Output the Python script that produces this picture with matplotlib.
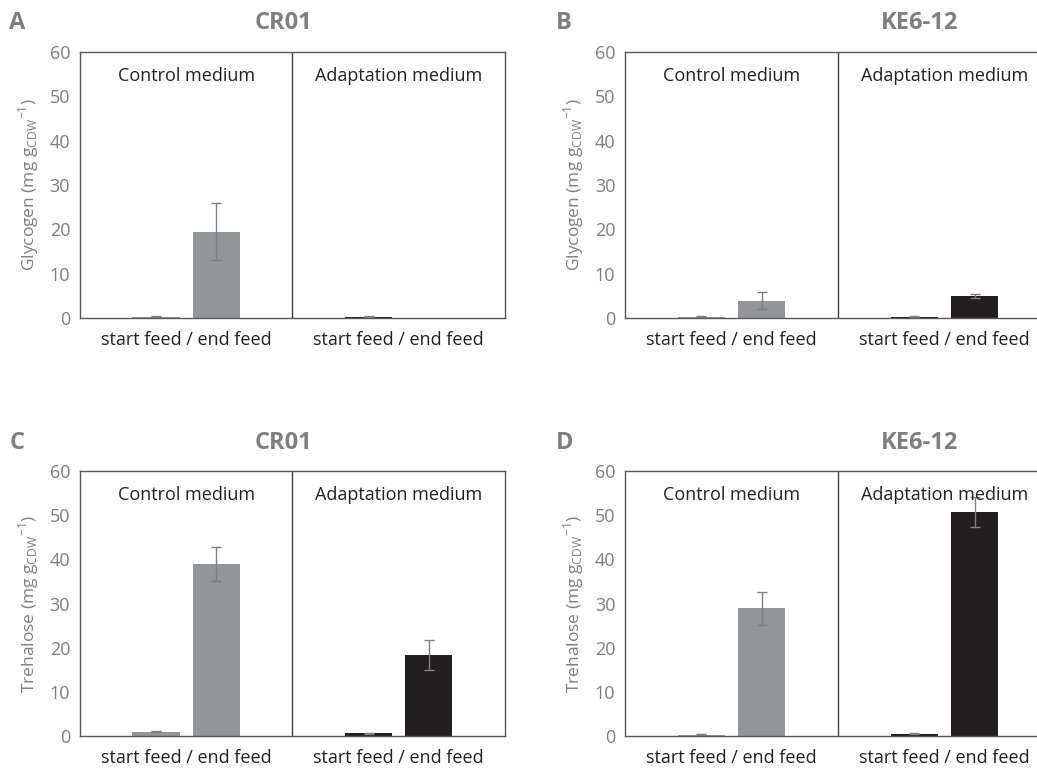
import matplotlib
matplotlib.use("Agg")
import matplotlib.pyplot as plt

plt.rcParams['font.family'] = ['Open Sans', 'DejaVu Sans']

# values (mg per g CDW)
media = ["Control medium", "Adaptation medium"]
panel_letters = ["A", "B", "C", "D"]
strains = ["CR01", "KE6-12", "CR01", "KE6-12"]
ylabels = ["Glycogen", "Glycogen", "Trehalose", "Trehalose"]

# [start, end] for control medium and adaptation medium
glyc_cr01_ctrl = [0.3, 19.5]
glyc_cr01_ctrl_err = [0.1, 6.4]
glyc_cr01_adapt = [0.3, 0.0]
glyc_cr01_adapt_err = [0.1, 0.0]

glyc_ke_ctrl = [0.3, 3.9]
glyc_ke_ctrl_err = [0.05, 1.9]
glyc_ke_adapt = [0.3, 5.0]
glyc_ke_adapt_err = [0.05, 0.4]

treh_cr01_ctrl = [1.0, 38.9]
treh_cr01_ctrl_err = [0.1, 3.8]
treh_cr01_adapt = [0.6, 18.3]
treh_cr01_adapt_err = [0.1, 3.4]

treh_ke_ctrl = [0.3, 28.9]
treh_ke_ctrl_err = [0.1, 3.8]
treh_ke_adapt = [0.5, 50.7]
treh_ke_adapt_err = [0.1, 3.4]

panels = [
    (glyc_cr01_ctrl, glyc_cr01_ctrl_err, glyc_cr01_adapt, glyc_cr01_adapt_err),
    (glyc_ke_ctrl, glyc_ke_ctrl_err, glyc_ke_adapt, glyc_ke_adapt_err),
    (treh_cr01_ctrl, treh_cr01_ctrl_err, treh_cr01_adapt, treh_cr01_adapt_err),
    (treh_ke_ctrl, treh_ke_ctrl_err, treh_ke_adapt, treh_ke_adapt_err),
]

gray_bar = "#939598"
dark_bar = "#231f20"
text_gray = "#7f7f7f"
frame = "#595959"

fig = plt.figure(figsize=(10.37, 7.69), dpi=100)

# axes rectangles in figure fraction (B and D run off the right edge like the source)
rects = [
    [0.0771, 0.5865, 0.4098, 0.3459],
    [0.6027, 0.5865, 0.4108, 0.3459],
    [0.0771, 0.0429, 0.4098, 0.3446],
    [0.6027, 0.0429, 0.4108, 0.3446],
]
letter_pos = [(0.009, 0.970), (0.536, 0.970), (0.009, 0.424), (0.536, 0.424)]
title_x = [0.273, 0.887, 0.273, 0.887]
err_style = dict(ecolor=text_gray, elinewidth=1, capsize=3.5, capthick=1)

for i, (ctrl, ctrl_err, adapt, adapt_err) in enumerate(panels):
    ax = fig.add_axes(rects[i])
    offs = [-0.142, 0.142]
    w = 0.222
    for j in range(2):
        ax.bar(0.5 + offs[j], ctrl[j], w, color=gray_bar, yerr=ctrl_err[j], error_kw=err_style)
        if adapt[j] > 0:
            ax.bar(1.5 + offs[j], adapt[j], w, color=dark_bar, yerr=adapt_err[j], error_kw=err_style)
    ax.set_xlim(0, 2)
    ax.set_ylim(0, 60)
    ax.set_yticks(range(0, 61, 10))
    ax.set_xticks([])
    ax.tick_params(axis='y', length=0, labelsize=13, labelcolor=text_gray, pad=7)
    for s in ax.spines.values():
        s.set_color(frame)
        s.set_linewidth(1)
    ax.axvline(1, color="#404040", lw=1)
    ax.set_ylabel(ylabels[i] + r" (mg g$_{\mathregular{CDW}}$$^{\mathregular{-1}}$)",
                  color=text_gray, fontsize=12.5, labelpad=6)
    for k in range(2):
        ax.text(0.5 + k, 54.6, media[k], ha='center', va='center', fontsize=13, color="#222222")
        ax.text(0.5 + k, -5.0, "start feed / end feed", ha='center', va='center',
                fontsize=13, color="#222222", clip_on=False)
    fig.text(title_x[i], letter_pos[i][1], strains[i], ha='center', va='center',
             fontsize=17, fontweight='bold', color=text_gray)
    fig.text(letter_pos[i][0], letter_pos[i][1], panel_letters[i], ha='left', va='center',
             fontsize=17, fontweight='bold', color=text_gray)

fig.savefig("out.png", dpi=100)
